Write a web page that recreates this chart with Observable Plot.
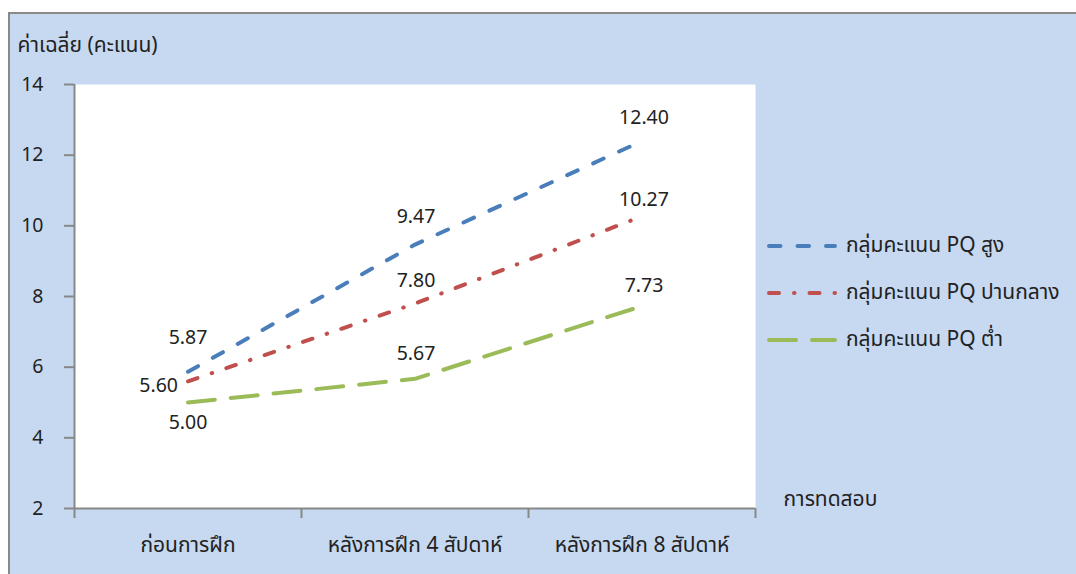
<!DOCTYPE html>
<html>
<head>
<meta charset="utf-8">
<script src="https://cdn.jsdelivr.net/npm/d3@7"></script>
<script src="https://cdn.jsdelivr.net/npm/@observablehq/plot@0.6"></script>
<style>
  html, body { margin: 0; padding: 0; background: #ffffff; }
  body { width: 1076px; height: 574px; overflow: hidden; position: relative;
         font-family: Tahoma, "Noto Sans Thai", "Noto Sans", sans-serif; color: #222; }
  .panel { position: absolute; left: 8px; top: 12px; width: 1200px; height: 700px;
           background: #c6d9f1; border: 2px solid #898989; box-sizing: border-box; }
  #chart { position: absolute; left: 0; top: 0; }
  .legend { position: absolute; left: 767px; top: 222px; font-size: 21px; white-space: nowrap; }
  .legend .row { display: flex; align-items: center; height: 47px; }
  .legend svg { display: block; margin-right: 7px; }
</style>
</head>
<body>
<div class="panel"></div>
<div id="chart"></div>
<div class="legend" id="legend"></div>
<script>
// Test occasions on the x axis
const categories = ["ก่อนการฝึก", "หลังการฝึก 4 สัปดาห์", "หลังการฝึก 8 สัปดาห์"];
// Group names
const seriesNames = ["กลุ่มคะแนน PQ สูง", "กลุ่มคะแนน PQ ปานกลาง", "กลุ่มคะแนน PQ ต่ำ"];
// Mean scores per group
const highScores = [5.87, 9.47, 12.40];
const midScores = [5.60, 7.80, 10.27];
const lowScores = [5.00, 5.67, 7.73];
// Y axis ticks
const yTicks = [2, 4, 6, 8, 10, 12, 14];
const yTitle = "ค่าเฉลี่ย (คะแนน)";
const xTitle = "การทดสอบ";

// Line styles per group
const styles = [
  {color: "#4a7ebb", dash: "11.5,17"},
  {color: "#c0504d", dash: "10,15,0.5,15"},
  {color: "#9bbb59", dash: "27,16"}
];
// Label offsets per group and occasion: [dx, dy, textAnchor]
const labelLayout = [
  [[0, -34, "middle"], [1, -28, "middle"], [2, -23, "middle"]],
  [[-10, 4, "end"], [1, -23, "middle"], [2, -17, "middle"]],
  [[0, 20, "middle"], [1, -25, "middle"], [2, -20, "middle"]]
];

const allScores = [highScores, midScores, lowScores];
const rows = allScores.flatMap((vals, s) => vals.map((v, i) => ({
  series: seriesNames[s], s, i, category: categories[i], pos: i + 0.5, value: v
})));

const font = 'Tahoma, "Noto Sans Thai", "Noto Sans", sans-serif';
const ink = "#222";
const axisGray = "#888";

const lineMarks = allScores.map((vals, s) =>
  Plot.line(rows.filter(d => d.s === s), {
    x: "pos", y: "value",
    stroke: styles[s].color, strokeWidth: 4,
    strokeDasharray: styles[s].dash, strokeLinecap: "round", strokeLinejoin: "round"
  })
);

const labelMarks = rows.map(d => {
  const [dx, dy, anchor] = labelLayout[d.s][d.i];
  return Plot.text([d], {
    x: "pos", y: "value", text: r => r.value.toFixed(2),
    dx, dy, textAnchor: anchor, fill: ink, fontSize: 19.5
  });
});

const chart = Plot.plot({
  width: 1076, height: 574,
  marginLeft: 74, marginRight: 321, marginTop: 84, marginBottom: 66,
  style: {background: "transparent", fontFamily: font, fontSize: "19px", color: ink, overflow: "visible"},
  x: {type: "linear", domain: [0, categories.length]},
  y: {domain: [2, 14]},
  marks: [
    Plot.frame({fill: "white", stroke: null}),
    Plot.axisY(yTicks, {tickSize: 10, tickPadding: 21, stroke: axisGray, strokeWidth: 2, fill: ink, fontSize: 19.5, label: null}),
    Plot.axisX(d3.range(categories.length + 1), {tickSize: 10, tickFormat: () => "", stroke: axisGray, strokeWidth: 2, label: null}),
    Plot.axisX(categories.map((c, i) => i + 0.5), {tickSize: 0, tickPadding: 29, tickFormat: v => categories[Math.floor(v)], fill: ink, fontSize: 21, label: null}),
    Plot.ruleX([0], {y1: 2, y2: 14, stroke: axisGray, strokeWidth: 2}),
    Plot.ruleY([2], {x1: 0, x2: categories.length, stroke: axisGray, strokeWidth: 2}),
    ...lineMarks,
    ...labelMarks,
    Plot.text([yTitle], {frameAnchor: "top-left", dx: -57, dy: -47, textAnchor: "start", fill: ink, fontSize: 21}),
    Plot.text([xTitle], {frameAnchor: "bottom-right", dx: 28, dy: -3, textAnchor: "start", fill: ink, fontSize: 21})
  ]
});
document.getElementById("chart").append(chart);

// Legend with dashed line samples
const legend = d3.select("#legend");
seriesNames.forEach((name, s) => {
  const row = legend.append("div").attr("class", "row");
  const svg = row.append("svg").attr("width", 72).attr("height", 10);
  svg.append("line").attr("x1", 2).attr("x2", 68).attr("y1", 5).attr("y2", 5)
    .attr("stroke", styles[s].color).attr("stroke-width", 4)
    .attr("stroke-dasharray", styles[s].dash).attr("stroke-linecap", "round");
  row.append("span").text(name);
});
</script>
</body>
</html>
